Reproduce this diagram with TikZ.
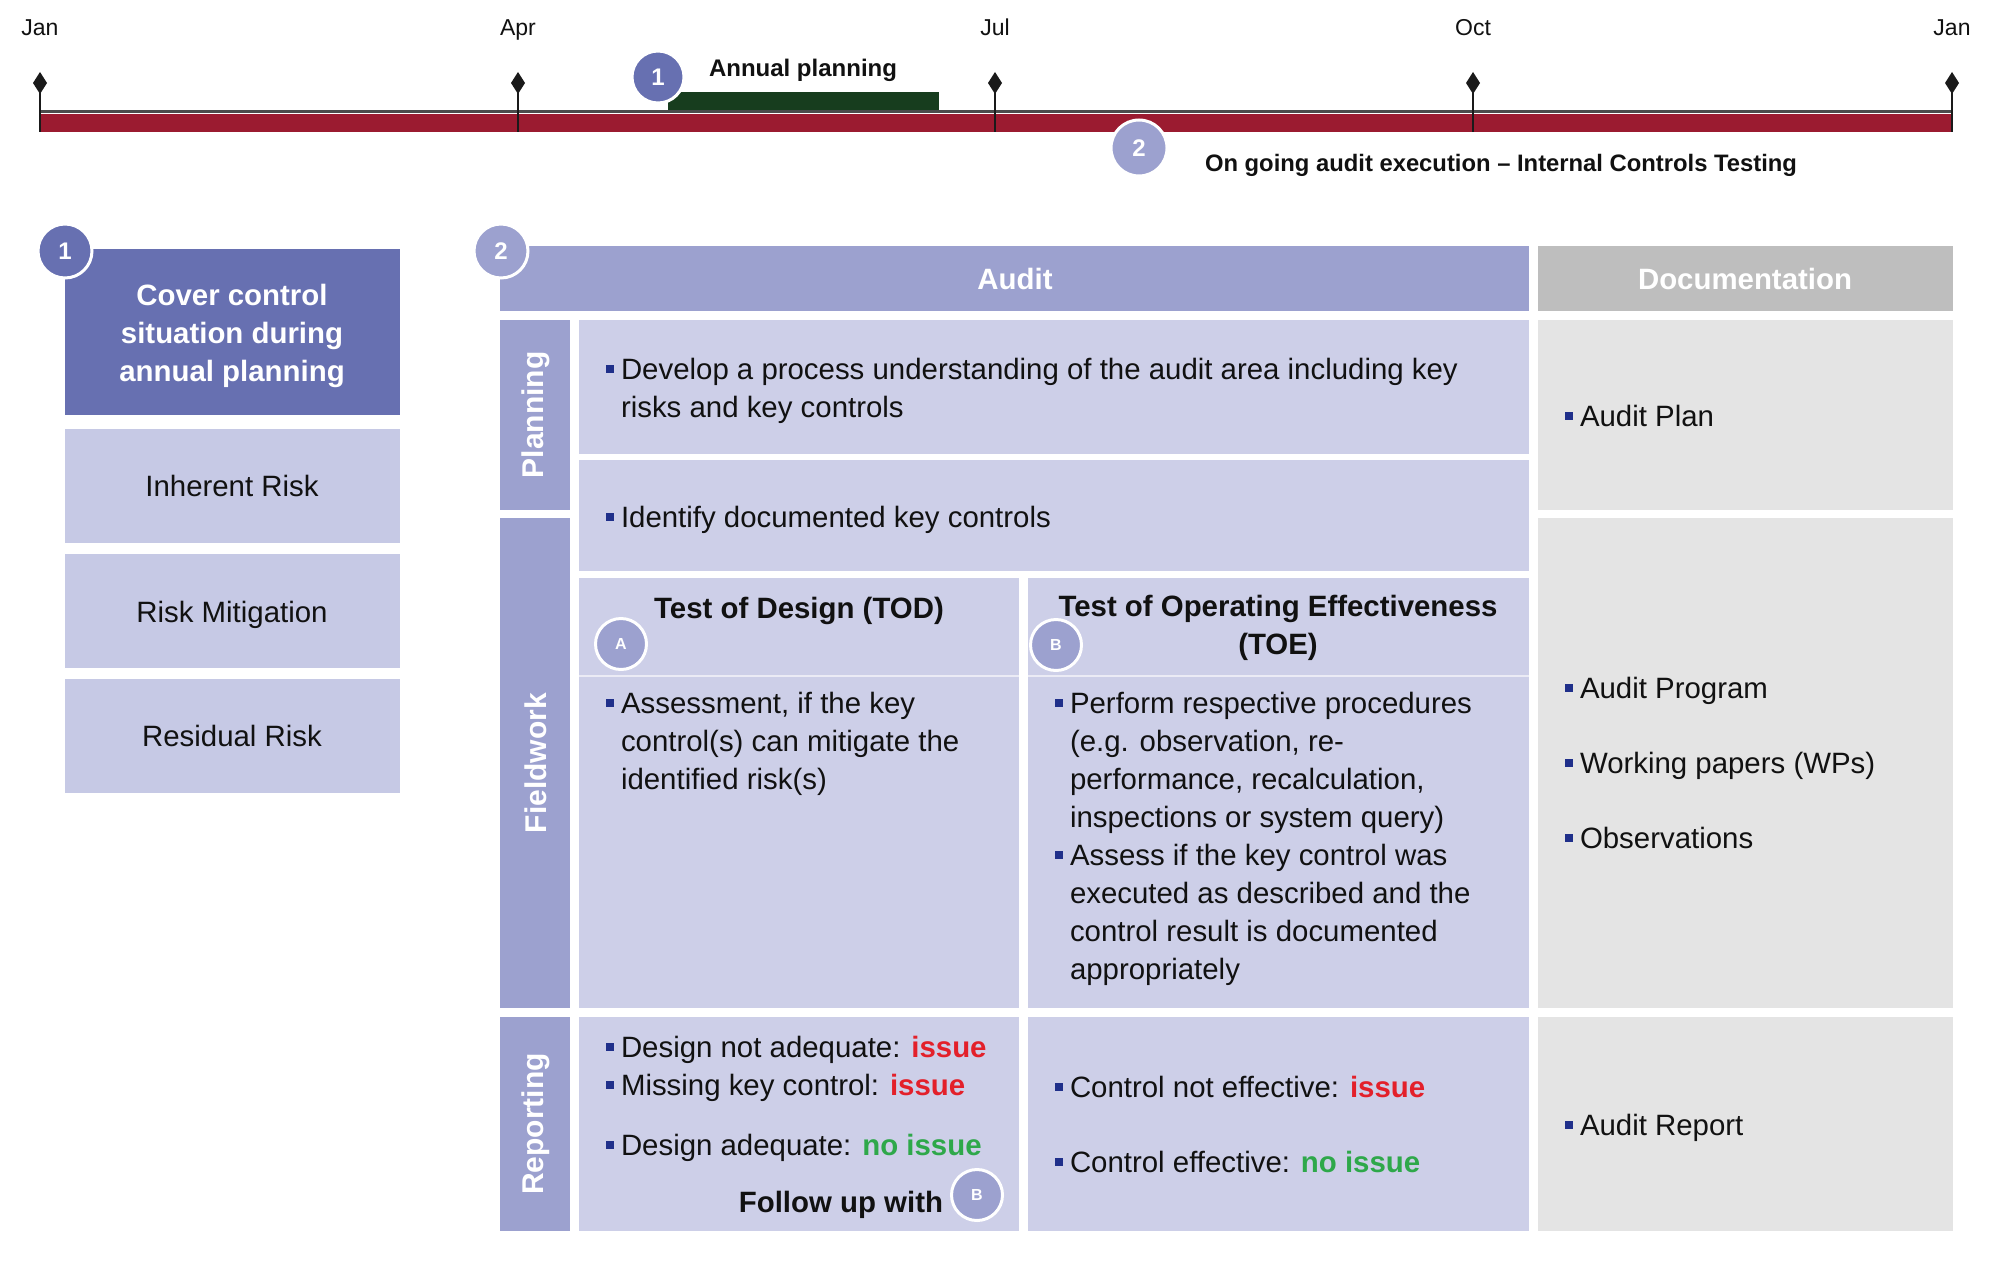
\documentclass[tikz,border=0pt]{standalone}
\usepackage{fontspec}
\setmainfont{Liberation Sans}
\definecolor{darkc}{HTML}{6770B1}
\definecolor{midc}{HTML}{9CA1CF}
\definecolor{cellc}{HTML}{CDCFE8}
\definecolor{leftc}{HTML}{C6C9E5}
\definecolor{dochc}{HTML}{BEBEBE}
\definecolor{docc}{HTML}{E4E4E4}
\definecolor{redbar}{HTML}{9B1B30}
\definecolor{greenbar}{HTML}{173D1E}
\definecolor{issuec}{HTML}{E3202A}
\definecolor{okc}{HTML}{2EA84A}
\definecolor{bulc}{HTML}{1F2F8A}
\definecolor{tickc}{HTML}{1A1A1A}
\definecolor{txtc}{HTML}{111111}
\newcommand\bodyfont{\fontsize{14.7}{19}\selectfont}
\newcommand\bsq{{\color{bulc}\rule[0.22em]{0.27em}{0.27em}}}
\newcommand\bitem[2]{\vtop{\hsize=#1\parindent=0pt\leftskip=7.5pt\baselineskip=19pt\noindent\llap{\bsq\hspace{3.5pt}}#2\par}}
\newcommand\iss{\textcolor{issuec}{\bfseries issue}}
\newcommand\noiss{\textcolor{okc}{\bfseries no issue}}
\begin{document}
\begin{tikzpicture}[x=0.5pt,y=-0.5pt,
  every node/.style={inner sep=0pt, outer sep=0pt, text=txtc},
  month/.style={font=\fontsize{11.5}{13}\selectfont, anchor=base},
  numdark/.style={circle, fill=darkc, draw=white, line width=1.5pt, text=white, font=\bfseries\fontsize{12}{14}\selectfont},
  numlight/.style={circle, fill=midc, draw=white, line width=1.5pt, text=white, font=\bfseries\fontsize{12}{14}\selectfont},
  letterc/.style={circle, fill=midc, draw=white, line width=1.5pt, text=white, font=\bfseries\fontsize{8}{10}\selectfont, minimum size=25.5pt},
  body/.style={font=\bodyfont, anchor=base west},
  sidelab/.style={rotate=90, text=white, font=\bfseries\fontsize{15}{18}\selectfont},
  headlab/.style={text=white, font=\bfseries\fontsize{14.7}{19}\selectfont},
  boldhead/.style={font=\bfseries\fontsize{14.7}{19}\selectfont}
]
\useasboundingbox[fill=white] (0,0) rectangle (2000,1268);

% ---------- timeline ----------
\draw[line width=1.25pt, draw=black!70] (40,111.5) -- (1953,111.5);
\fill[redbar] (40,114) rectangle (1953,132);
\fill[greenbar] (668,92) rectangle (939,110);
\foreach \x/\m/\nm in {40/Jan/m1, 518/Apr/m2, 995/Jul/m3, 1473/Oct/m4, 1952/Jan/m5}{
  \draw[tickc, line width=1.25pt] (\x,92) -- (\x,132);
  \fill[tickc] (\x,72) -- (\x+7,83) -- (\x,94) -- (\x-7,83) -- cycle;
  \node[month] (\nm) at (\x,36) {\m};
}
\node[numdark, minimum size=26pt] (t1) at (658,77) {1};
\node[font=\bfseries\fontsize{12}{14}\selectfont, anchor=base west] (tap) at (709,77) {Annual planning};
\node[numlight, minimum size=28pt] (t2) at (1139,148) {2};
\node[font=\bfseries\fontsize{11.9}{14}\selectfont, anchor=base west] (tog) at (1205,171) {On going audit execution -- Internal Controls Testing};

% ---------- left column ----------
\fill[darkc] (65,249) rectangle (400,415);
\fill[leftc] (65,429) rectangle (400,543);
\fill[leftc] (65,554) rectangle (400,668);
\fill[leftc] (65,679) rectangle (400,793);
\node[align=center, text=white, font=\bfseries\fontsize{14.7}{19}\selectfont] (cover) at (232,336) {Cover control\\situation during\\annual planning};
\node[font=\bodyfont, anchor=base] (inh) at (232,496) {Inherent Risk};
\node[font=\bodyfont, anchor=base] (mit) at (232,622) {Risk Mitigation};
\node[font=\bodyfont, anchor=base] (res) at (232,746) {Residual Risk};
\node[numdark, minimum size=27pt] (c1) at (65,251) {1};

% ---------- main table ----------
\fill[midc] (500,246) rectangle (1529,311);
\fill[dochc] (1538,246) rectangle (1953,311);
\fill[midc] (500,320) rectangle (570,510);
\fill[midc] (500,518) rectangle (570,1008);
\fill[midc] (500,1017) rectangle (570,1231);
\fill[cellc] (579,320) rectangle (1529,454);
\fill[cellc] (579,460) rectangle (1529,571);
\fill[cellc] (579,578) rectangle (1019,1008);
\fill[cellc] (1028,578) rectangle (1529,1008);
\fill[cellc] (579,1017) rectangle (1019,1231);
\fill[cellc] (1028,1017) rectangle (1529,1231);
\fill[docc] (1538,320) rectangle (1953,510);
\fill[docc] (1538,518) rectangle (1953,1008);
\fill[docc] (1538,1017) rectangle (1953,1231);
\draw[white, opacity=0.6, line width=0.75pt] (579,676) -- (1019,676);
\draw[white, opacity=0.6, line width=0.75pt] (1028,676) -- (1529,676);

\node[headlab] (haud) at (1015,279) {Audit};
\node[headlab] (hdoc) at (1745,279) {Documentation};
\node[sidelab] (splan) at (536,415) {Planning};
\node[sidelab] (sfield) at (536,763) {Fieldwork};
\node[sidelab] (srep) at (536,1124) {Reporting};
\node[numlight, minimum size=27pt] (c2) at (501,251) {2};

% planning rows
\node[body] (p1) at (606,379) {\bitem{480pt}{Develop a process understanding of the audit area including key\\risks and key controls}};
\node[body] (p2) at (606,527) {\bitem{480pt}{Identify documented key controls}};

% fieldwork headers
\node[boldhead, anchor=base] (htod) at (799,618) {Test of Design (TOD)};
\node[boldhead, align=center, anchor=north] (htoe) at (1278,595) {Test of Operating Effectiveness\\(TOE)};
\node[letterc] (ca) at (621,644) {A};
\node[letterc] (cb) at (1056,645) {B};

% fieldwork bullets
\node[body] (f1) at (606,713) {\bitem{300pt}{Assessment, if the key\\control(s) can mitigate the\\identified risk(s)}};
\node[body] (f2) at (1055,713) {\bitem{300pt}{Perform respective procedures\\(e.g. observation, re-\\performance, recalculation,\\inspections or system query)}};
\node[body] (f3) at (1055,865) {\bitem{300pt}{Assess if the key control was\\executed as described and the\\control result is documented\\appropriately}};

% reporting
\node[body] (r1) at (606,1057) {\bitem{300pt}{Design not adequate: \iss}};
\node[body] (r2) at (606,1095) {\bitem{300pt}{Missing key control: \iss}};
\node[body] (r3) at (606,1155) {\bitem{300pt}{Design adequate: \noiss}};
\node[boldhead, anchor=base east] (fup) at (943,1212) {Follow up with};
\node[letterc] (cb2) at (977,1195) {B};
\node[body] (r4) at (1055,1097) {\bitem{300pt}{Control not effective: \iss}};
\node[body] (r5) at (1055,1172) {\bitem{300pt}{Control effective: \noiss}};

% documentation
\node[body] (d1) at (1565,426) {\bitem{200pt}{Audit Plan}};
\node[body] (d2) at (1565,698) {\bitem{200pt}{Audit Program}};
\node[body] (d3) at (1565,773) {\bitem{200pt}{Working papers (WPs)}};
\node[body] (d4) at (1565,848) {\bitem{200pt}{Observations}};
\node[body] (d5) at (1565,1135) {\bitem{200pt}{Audit Report}};
\end{tikzpicture}
\end{document}
